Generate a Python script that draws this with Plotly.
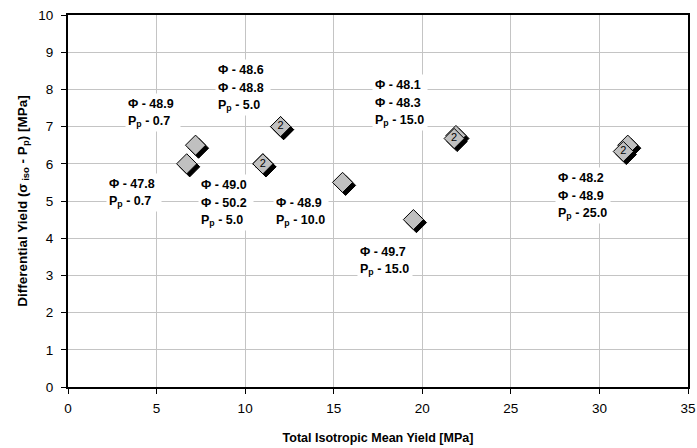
import plotly.graph_objects as go

# ---------------- data ----------------
x_vals = [7.2, 6.7, 11.0, 11.0, 12.0, 12.0, 15.5, 19.5, 21.9, 21.8, 31.6, 31.35]
y_vals = [6.5, 6.0, 6.0, 6.0, 7.0, 7.0, 5.5, 4.5, 6.76, 6.68, 6.5, 6.33]
count_text = ["", "", "", "2", "", "2", "", "", "", "2", "", "2"]

label_x = [4.82, 3.72, 9.89, 8.9, 13.13, 18.74, 17.9, 29.1]
label_y = [7.37, 5.23, 8.05, 4.97, 4.73, 7.66, 3.39, 5.16]
label_lines = [
    ["Φ - 48.9", "P<sub>p</sub> - 0.7"],
    ["Φ - 47.8", "P<sub>p</sub> - 0.7"],
    ["Φ - 48.6", "Φ - 48.8", "P<sub>p</sub> - 5.0"],
    ["Φ - 49.0", "Φ - 50.2", "P<sub>p</sub> - 5.0"],
    ["Φ - 48.9", "P<sub>p</sub> - 10.0"],
    ["Φ - 48.1", "Φ - 48.3", "P<sub>p</sub> - 15.0"],
    ["Φ - 49.7", "P<sub>p</sub> - 15.0"],
    ["Φ - 48.2", "Φ - 48.9", "P<sub>p</sub> - 25.0"],
]

x_ticks = [0, 5, 10, 15, 20, 25, 30, 35]
y_ticks = [0, 1, 2, 3, 4, 5, 6, 7, 8, 9, 10]
x_title = "Total Isotropic Mean Yield [MPa]"
y_title = "Differential Yield (σ<sub> iso</sub> - P<sub>p</sub>) [MPa]"

# ---------------- figure ----------------
FONT = "Liberation Sans, Arial, sans-serif"
XR = [0, 35]
YR = [0, 10]
L, R, T, B = 68, 9, 15, 61
W, H = 697, 448
pxx = (W - L - R) / (XR[1] - XR[0])
pxy = (H - T - B) / (YR[1] - YR[0])
sh = 3  # shadow offset in px
MS = 15.5

fig = go.Figure()

# shadow (drawn on an overlay axis shifted a few pixels)
fig.add_trace(go.Scatter(
    x=x_vals, y=y_vals, mode="markers", xaxis="x2", yaxis="y2",
    marker=dict(symbol="diamond", size=MS, color="black",
                line=dict(color="black", width=1)),
    hoverinfo="skip", showlegend=False))

# main markers on a third overlay (unshifted) so they sit above the shadow
fig.add_trace(go.Scatter(
    x=x_vals, y=y_vals, mode="markers+text", text=count_text,
    xaxis="x3", yaxis="y3",
    textposition="middle center",
    textfont=dict(family=FONT, size=11, color="black"),
    marker=dict(symbol="diamond", size=MS, color="#C0C0C0",
                line=dict(color="black", width=1)),
    showlegend=False))

line_sp = 18
for lx, ly, lines in zip(label_x, label_y, label_lines):
    n = len(lines)
    for i, t in enumerate(lines):
        fig.add_annotation(
            x=lx, y=ly, xref="x", yref="y", text="<b>" + t + "</b>",
            showarrow=False, align="left", width=50, height=15,
            bgcolor="white", borderpad=2,
            yshift=((n - 1) / 2 - i) * line_sp,
            font=dict(family=FONT, size=12.5, color="black"))

axis_common = dict(
    showgrid=True, gridcolor="#C4C4C4", gridwidth=1,
    showline=True, linecolor="black", linewidth=2, mirror=True,
    ticks="outside", ticklen=5, tickcolor="black", tickwidth=1,
    zeroline=False, automargin=False,
    tickfont=dict(family=FONT, size=13.5, color="black"),
)

fig.update_layout(
    width=W, height=H,
    margin=dict(l=L, r=R, t=T, b=B),
    paper_bgcolor="white", plot_bgcolor="white",
    xaxis=dict(range=XR, tickvals=x_ticks, **axis_common, ticklabelstandoff=3,
               title=dict(text="<b>" + x_title + "</b>", standoff=18,
                          font=dict(family=FONT, size=12.5, color="black"))),
    yaxis=dict(range=YR, tickvals=y_ticks, **axis_common, ticklabelstandoff=5,
               title=dict(text="<b>" + y_title + "</b>", standoff=8,
                          font=dict(family=FONT, size=13.5, color="black"))),
    xaxis2=dict(overlaying="x", range=[XR[0] - sh / pxx, XR[1] - sh / pxx],
                visible=False),
    yaxis2=dict(overlaying="y", range=[YR[0] + sh / pxy, YR[1] + sh / pxy],
                visible=False),
    xaxis3=dict(overlaying="x", range=XR, visible=False),
    yaxis3=dict(overlaying="y", range=YR, visible=False),
)

fig.write_html("out.html", config={"displayModeBar": False},
               post_script="document.body.style.margin='0';")
